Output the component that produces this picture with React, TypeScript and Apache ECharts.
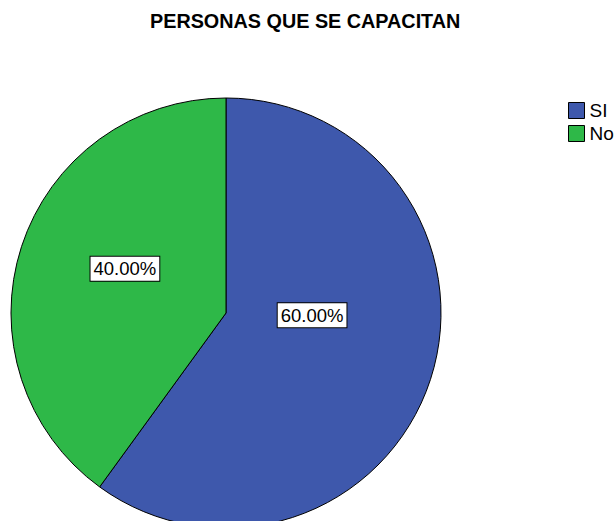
import React, { useEffect, useRef } from "react";
import * as echarts from "echarts";

const categories = ["SI", "No"];
const values = [60, 40];
const colors = ["#3E58AC", "#2EB848"];
const titleText = "PERSONAS QUE SE CAPACITAN";

export default function App() {
  const ref = useRef<HTMLDivElement>(null);
  useEffect(() => {
    document.body.style.margin = "0";
    if (!ref.current) return;
    const chart = echarts.init(ref.current, null, { renderer: "svg" });
    const labelOffsets = [
      [-19, -32],
      [4, -10],
    ];
    chart.setOption({
      animation: false,
      backgroundColor: "#ffffff",
      textStyle: { fontFamily: "Liberation Sans, Arial, sans-serif" },
      title: {
        text: titleText,
        left: 150,
        top: 11,
        padding: 0,
        textStyle: {
          fontSize: 19.8,
          fontWeight: "bold",
          color: "#000",
          fontFamily: "Liberation Sans, Arial, sans-serif",
        },
      },
      legend: {
        orient: "vertical",
        left: 568,
        top: 101,
        icon: "rect",
        itemWidth: 16,
        itemHeight: 16,
        itemGap: 4,
        padding: 0,
        itemStyle: { borderColor: "#000", borderWidth: 1 },
        textStyle: {
          fontSize: 19,
          color: "#000",
          padding: [0, 0, 0, 0],
          fontFamily: "Liberation Sans, Arial, sans-serif",
        },
        data: categories,
      },
      series: [
        {
          type: "pie",
          center: [226, 313],
          radius: 215,
          startAngle: 90,
          clockwise: true,
          avoidLabelOverlap: false,
          itemStyle: { borderColor: "#000", borderWidth: 1 },
          label: {
            show: true,
            position: "inside",
            formatter: (p: any) => p.value.toFixed(2) + "%",
            fontSize: 18.5,
            color: "#000",
            backgroundColor: "#fff",
            borderColor: "#000",
            borderWidth: 1,
            padding: [3, 3, 2, 3],
            fontFamily: "Liberation Sans, Arial, sans-serif",
          },
          emphasis: { disabled: true },
          data: categories.map((c, i) => ({
            name: c,
            value: values[i],
            itemStyle: { color: colors[i] },
            label: { offset: labelOffsets[i] },
          })),
        },
      ],
    });
    return () => chart.dispose();
  }, []);
  return <div ref={ref} style={{ width: 615, height: 521 }} />;
}
